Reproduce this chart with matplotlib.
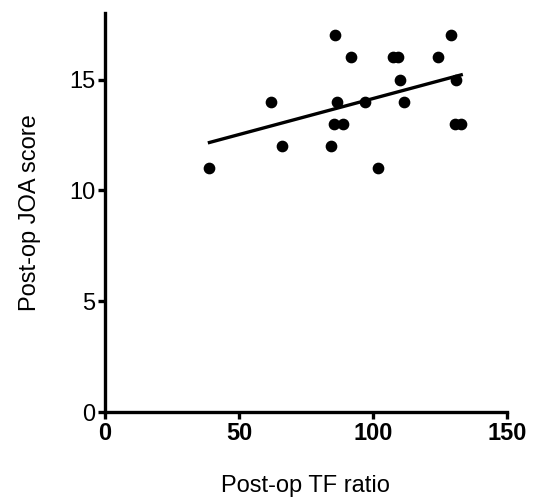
import matplotlib
import matplotlib.pyplot as plt
import numpy as np

matplotlib.use('agg')

# Post-op TF ratio vs post-op JOA score
tf_ratio = [39, 62, 66, 86, 86.5, 85.5, 89, 84.5, 92, 97, 102, 107.5, 109.5, 110, 111.5, 124.5, 129, 131, 130.5, 133]
joa_score = [11, 14, 12, 17, 14, 13, 13, 12, 16, 14, 11, 16, 16, 15, 14, 16, 17, 15, 13, 13]
x_ticks = [0, 50, 100, 150]
y_ticks = [0, 5, 10, 15]

plt.rcParams['font.family'] = ['Liberation Sans', 'DejaVu Sans']

fig = plt.figure(figsize=(5.34, 5.04), dpi=100)
ax = fig.add_axes([0.1966, 0.1825, 0.7524, 0.7917])

x = np.array(tf_ratio)
y = np.array(joa_score)
ax.scatter(x, y, s=55, color='black', zorder=3)

slope, intercept = np.polyfit(x, y, 1)
xs = np.array([x.min(), x.max()])
ax.plot(xs, slope * xs + intercept, color='black', linewidth=2.4)

ax.set_xlim(0, 150)
ax.set_ylim(0, 18)
ax.set_xticks(x_ticks)
ax.set_yticks(y_ticks)
ax.spines['top'].set_visible(False)
ax.spines['right'].set_visible(False)
ax.spines['left'].set_linewidth(2.4)
ax.spines['bottom'].set_linewidth(2.4)
ax.tick_params(width=2.4, length=5, labelsize=17, pad=2)
for lbl in ax.get_xticklabels():
    lbl.set_fontweight('bold')

ax.set_xlabel('Post-op TF ratio', fontsize=17, labelpad=22)
ax.set_ylabel('Post-op JOA score', fontsize=17, labelpad=20)

plt.savefig('out.png')
